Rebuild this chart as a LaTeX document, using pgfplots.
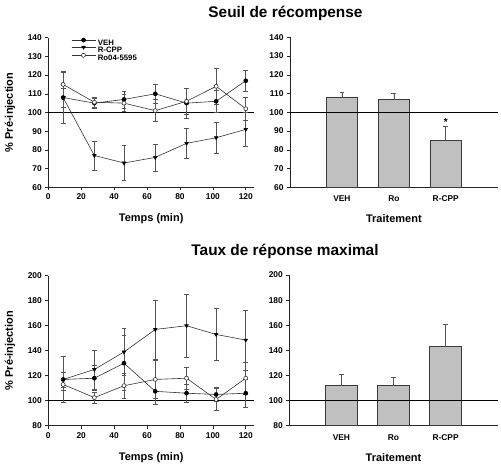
\documentclass[border=0pt]{standalone}
\usepackage{pgfplots}
\pgfplotsset{compat=1.18}
\usepackage{fontspec}
\setmainfont{Liberation Sans}

\definecolor{linegray}{HTML}{333333}
\definecolor{errgray}{HTML}{555555}
\definecolor{barfill}{HTML}{C0C0C0}
\definecolor{baredge}{HTML}{3A3A3A}

% time course: t, mean and SEM for each treatment
\pgfplotstableread{
t   veh   vehe  cpp   cppe  ro    roe
9   108   5     108   14    115   6.5
28  105   2.5   77    7.7   105.5 2.5
46  107   4.6   73    9.5   105   4.5
65  110   5.3   76    7.2   101   5.9
84  105   8     83.5  8.2   106   7
102 106   6     86.5  8.4   114   9.5
120 117   5.5   91    9     102   6
}\seuiltime
\pgfplotstableread{
t   veh   vehe  cpp   cppe  ro    roe
9   117   6     117   18.5  113   5
28  118   10    125   15.5  102.5 4.5
46  130   22    139   19    112   10
65  107.5 10    157   23.5  117   15
84  106   7.5   160   25    118   9
102 105   5.5   153   20.7  101   9
120 106   11    148.5 24.2  118   13
}\tauxtime
% whole-session means
\pgfplotstableread{
pos val   err
1   108.2 2.7
2   106.8 3.5
3   85    7.3
}\seuilbar
\pgfplotstableread{
pos val   err
1   112   8.5
2   112   6.7
3   143   17.5
}\tauxbar

\pgfplotsset{
  panel/.style={
    scale only axis,
    axis x line*=bottom, axis y line*=left,
    axis line style={line width=0.6pt, black!85},
    tick align=outside,
    major tick length=3pt,
    tick style={line width=0.6pt, black!85},
    ticklabel style={font=\fontsize{8.4}{9}\selectfont\bfseries},
    /pgf/number format/assume math mode=true,
    label style={font=\fontsize{11}{12}\selectfont\bfseries},
    xlabel style={at={(axis description cs:0.5,-0.21)}, anchor=center},
    ylabel style={at={(axis description cs:-0.186,0.5)}, anchor=center},
    clip=false,
  },
  timepanel/.style={
    panel,
    xmin=0, xmax=125, xtick={0,20,...,120},
    xlabel={Temps (min)}, ylabel={\% Pré-injection},
  },
  barpanel/.style={
    panel,
    xmin=0, xmax=4, xtick={1,2,3}, xticklabels={VEH,Ro,R-CPP},
    x tick style={draw=none},
    xticklabel style={yshift=-2pt},
    xlabel={Traitement},
  },
  ser/.style={
    color=linegray, line width=0.6pt, mark size=2pt,
    error bars/y dir=both, error bars/y explicit,
    error bars/error bar style={errgray, line width=0.6pt},
    error bars/error mark options={rotate=90, mark size=2.4pt, errgray, line width=0.6pt},
  },
  bars/.style={
    ybar, bar width=31.7pt, bar shift=0pt,
    fill=barfill, draw=baredge, line width=0.7pt,
    error bars/y dir=plus, error bars/y explicit,
    error bars/error bar style={errgray, line width=0.7pt},
    error bars/error mark options={rotate=90, mark size=2.4pt, errgray, line width=0.7pt},
  },
  refline/.style={black, line width=0.6pt, forget plot},
}

\begin{document}
\begin{tikzpicture}
\useasboundingbox (0pt,0pt) rectangle (501pt,-469pt);

\node[font=\fontsize{15.4}{16}\selectfont\bfseries] at (285.5pt,-13pt) {Seuil de récompense};
\node[font=\fontsize{15.4}{16}\selectfont\bfseries] at (285pt,-251pt) {Taux de réponse maximal};

% threshold, time course
\begin{axis}[timepanel,
  at={(48.3pt,-187.3pt)}, anchor=south west,
  width=205.7pt, height=149.6pt,
  ymin=60, ymax=140, ytick={60,70,...,140},
  legend style={at={(axis description cs:0.096,1.012)}, anchor=north west,
    draw=none, fill=none, font=\fontsize{7.8}{8}\selectfont\bfseries,
    row sep=0.5pt, column sep=2pt,
    nodes={inner sep=0pt, text height=5.6pt, text depth=0.6pt}},
  legend cell align=left,
  legend image code/.code={\draw[mark repeat=2,mark phase=2,#1]
    plot coordinates {(0pt,2.5pt) (12pt,2.5pt) (24pt,2.5pt)};},
]
\addplot[refline] coordinates {(0,100) (125,100)};
\addplot[ser, mark=*, mark options={fill=black, draw=black}]
  table[x=t, y=veh, y error=vehe] {\seuiltime};
\addplot[ser, mark=triangle*, mark options={rotate=180, fill=black, draw=black}]
  table[x=t, y=cpp, y error=cppe] {\seuiltime};
\addplot[ser, mark=*, mark options={fill=white, draw=linegray}]
  table[x=t, y=ro, y error=roe] {\seuiltime};
\legend{VEH, R-CPP, Ro04-5595}
\end{axis}

% threshold, session mean
\begin{axis}[barpanel,
  at={(290pt,-187.3pt)}, anchor=south west,
  width=207.7pt, height=150pt,
  ymin=60, ymax=140, ytick={60,70,...,140},
]
\addplot[bars] table[x=pos, y=val, y error=err] {\seuilbar};
\addplot[refline] coordinates {(0,100) (4,100)};
\node[font=\fontsize{10}{10}\selectfont\bfseries] at (axis cs:3,95) {*};
\end{axis}

% maximal rate, time course
\begin{axis}[timepanel,
  at={(48.3pt,-425.7pt)}, anchor=south west,
  width=205.7pt, height=150pt,
  ymin=80, ymax=200, ytick={80,100,...,200},
]
\addplot[refline] coordinates {(0,100) (125,100)};
\addplot[ser, mark=*, mark options={fill=black, draw=black}]
  table[x=t, y=veh, y error=vehe] {\tauxtime};
\addplot[ser, mark=triangle*, mark options={rotate=180, fill=black, draw=black}]
  table[x=t, y=cpp, y error=cppe] {\tauxtime};
\addplot[ser, mark=*, mark options={fill=white, draw=linegray}]
  table[x=t, y=ro, y error=roe] {\tauxtime};
\end{axis}

% maximal rate, session mean
\begin{axis}[barpanel,
  at={(289.3pt,-425.7pt)}, anchor=south west,
  width=208.4pt, height=150.7pt,
  ymin=80, ymax=200, ytick={80,100,...,200},
]
\addplot[bars] table[x=pos, y=val, y error=err] {\tauxbar};
\addplot[refline] coordinates {(0,100) (4,100)};
\end{axis}
\end{tikzpicture}
\end{document}
